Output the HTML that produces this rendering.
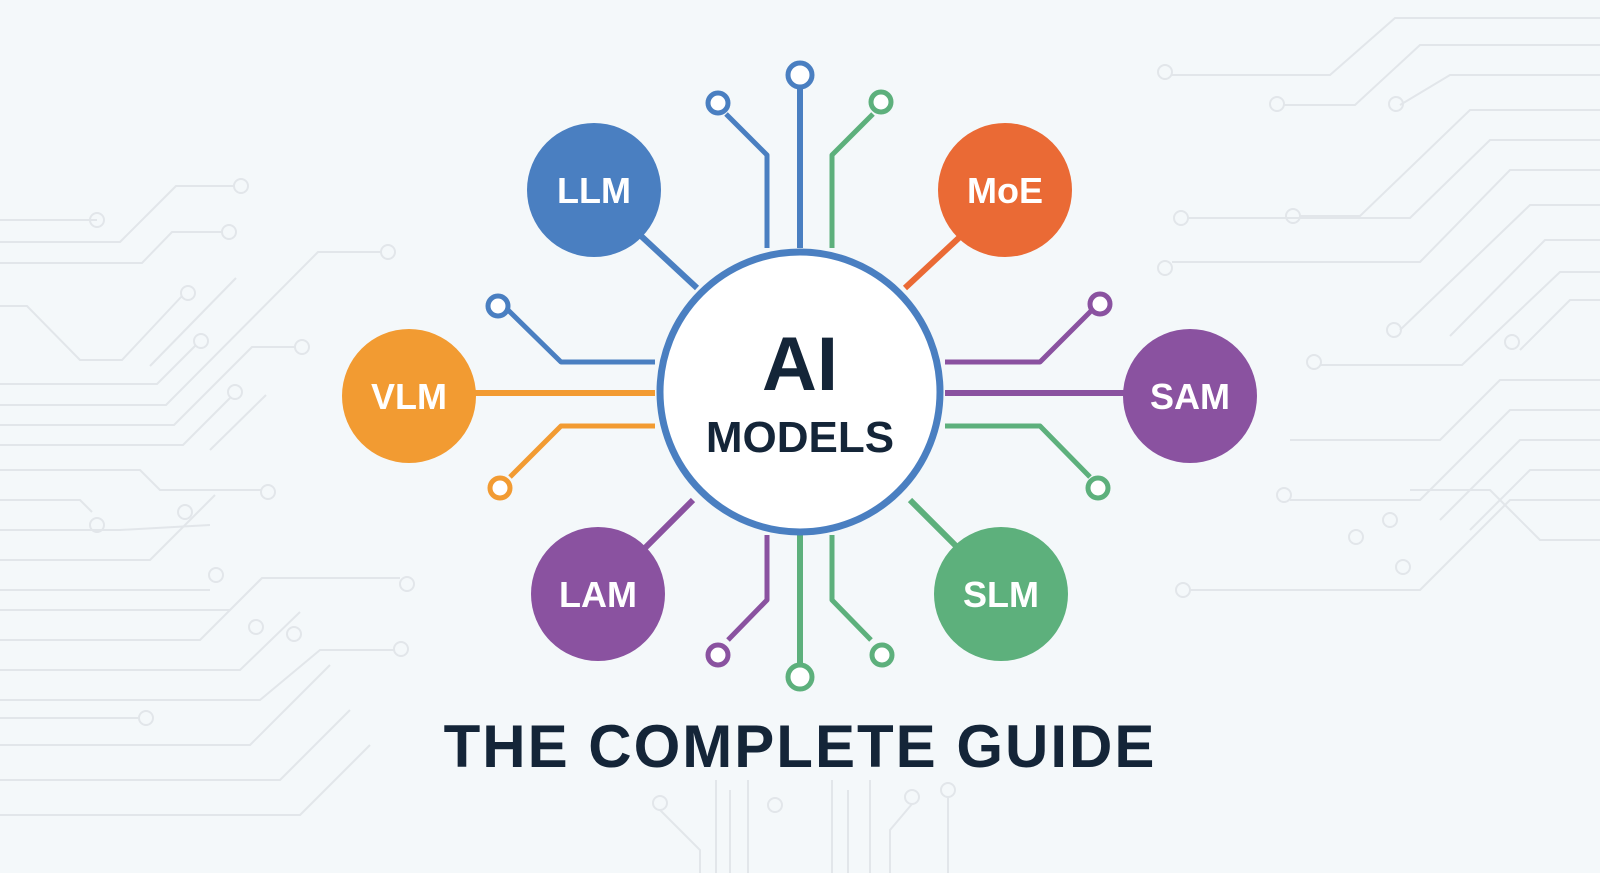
<!DOCTYPE html>
<html><head><meta charset="utf-8"><style>
html,body{margin:0;padding:0;background:#f4f8fa;}
svg{display:block;}
</style></head><body>
<svg width="1600" height="873" viewBox="0 0 1600 873" xmlns="http://www.w3.org/2000/svg">
<rect width="1600" height="873" fill="#f4f8fa"/>
<g stroke="#e2e6ea" stroke-width="2" fill="none">
<path d="M0 220 H97"/><circle cx="97" cy="220" r="7"/>
<path d="M0 242 H120 L176 186 H235"/><circle cx="241" cy="186" r="7"/>
<path d="M0 263 H142 L172 232 H223"/><circle cx="229" cy="232" r="7"/>
<path d="M0 306 H27 L80 360 H122 L182 296"/><circle cx="188" cy="293" r="7"/>
<path d="M150 366 L236 278"/>
<path d="M0 384 H157 L196 345"/><circle cx="201" cy="341" r="7"/>
<path d="M0 405 H166 L318 252 H382"/><circle cx="388" cy="252" r="7"/>
<path d="M0 425 H174 L252 347 H296"/><circle cx="302" cy="347" r="7"/>
<path d="M0 445 H183 L230 398"/><circle cx="235" cy="392" r="7"/>
<path d="M210 450 L266 395"/>
<path d="M0 470 H140 L160 490 H262"/><circle cx="268" cy="492" r="7"/>
<path d="M0 500 H80 L92 512"/><circle cx="97" cy="525" r="7"/>
<path d="M0 530 H120 L210 525"/>
<path d="M0 560 H150 L215 495"/><circle cx="185" cy="512" r="7"/>
<path d="M0 590 H210"/><circle cx="216" cy="575" r="7"/>
<path d="M0 610 H230 L262 578 H400"/><circle cx="407" cy="584" r="7"/>
<path d="M0 640 H200 L260 580"/><circle cx="256" cy="627" r="7"/>
<path d="M0 670 H240 L300 612"/><circle cx="294" cy="634" r="7"/>
<path d="M0 700 H260 L320 650 H395"/><circle cx="401" cy="649" r="7"/>
<path d="M0 718 H140"/><circle cx="146" cy="718" r="7"/>
<path d="M0 745 H250 L330 665"/>
<path d="M0 780 H280 L350 710"/>
<path d="M0 815 H300 L370 745"/>
<path d="M1600 18 H1395 L1330 75 H1172"/><circle cx="1165" cy="72" r="7"/>
<path d="M1600 45 H1420 L1355 105 H1284"/><circle cx="1277" cy="104" r="7"/>
<path d="M1600 75 H1450 L1400 105"/><circle cx="1396" cy="104" r="7"/>
<path d="M1600 110 H1470 L1360 216 H1300"/><circle cx="1293" cy="216" r="7"/>
<path d="M1600 140 H1490 L1410 218 H1188"/><circle cx="1181" cy="218" r="7"/>
<path d="M1600 170 H1510 L1420 262 H1172"/><circle cx="1165" cy="268" r="7"/>
<path d="M1600 205 H1530 L1400 330"/><circle cx="1394" cy="330" r="7"/>
<path d="M1600 240 H1545 L1450 336"/>
<path d="M1600 272 H1560 L1462 365 H1320"/><circle cx="1314" cy="362" r="7"/>
<path d="M1600 300 H1570 L1520 350"/><circle cx="1512" cy="342" r="7"/>
<path d="M1600 380 H1500 L1440 440 H1290"/><circle cx="1284" cy="495" r="7"/>
<path d="M1600 410 H1510 L1420 500 H1290"/>
<path d="M1600 440 H1520 L1440 520"/><circle cx="1390" cy="520" r="7"/>
<path d="M1600 470 H1530 L1470 530"/><circle cx="1356" cy="537" r="7"/>
<path d="M1600 540 H1540 L1490 490 H1410"/><circle cx="1403" cy="567" r="7"/>
<path d="M1600 500 H1510 L1420 590 H1190"/><circle cx="1183" cy="590" r="7"/>
<path d="M716 780 V873 M730 790 V873 M748 780 V873 M832 780 V873 M848 790 V873 M870 780 V873"/>
<circle cx="660" cy="803" r="7"/><circle cx="775" cy="805" r="7"/><circle cx="912" cy="797" r="7"/><circle cx="948" cy="790" r="7"/>
<path d="M660 810 L700 850 V873 M912 804 L890 830 V873 M948 797 V873"/>
</g>

<!-- connectors -->
<g fill="none" stroke-width="5" stroke-linejoin="round">
<path d="M800 248 V86" stroke="#4a7fc1" stroke-width="6"/>
<path d="M767 248 V155 L726 114" stroke="#4a7fc1"/>
<path d="M832 248 V155 L873 114" stroke="#5db07c"/>
<path d="M800 535 V666" stroke="#5db07c" stroke-width="6"/>
<path d="M767 535 V600 L728 640" stroke="#8a52a0"/>
<path d="M832 535 V600 L871 640" stroke="#5db07c"/>
<path d="M655 362 H561 L508 310" stroke="#4a7fc1"/>
<path d="M470 393 H655" stroke="#f29b32" stroke-width="6"/>
<path d="M655 426 H561 L510 477" stroke="#f29b32"/>
<path d="M945 362 H1040 L1092 310" stroke="#8a52a0"/>
<path d="M945 393 H1130" stroke="#8a52a0" stroke-width="6"/>
<path d="M945 426 H1040 L1090 477" stroke="#5db07c"/>
<path d="M640 235 L697 288" stroke="#4a7fc1" stroke-width="6"/>
<path d="M962 235 L905 288" stroke="#ea6a35" stroke-width="6"/>
<path d="M645 548 L693 500" stroke="#8a52a0" stroke-width="6"/>
<path d="M958 548 L910 500" stroke="#5db07c" stroke-width="6"/>
</g>
<g fill="#fff" stroke-width="5">
<circle cx="800" cy="75" r="12" stroke="#4a7fc1"/>
<circle cx="718" cy="103" r="10" stroke="#4a7fc1"/>
<circle cx="881" cy="102" r="10" stroke="#5db07c"/>
<circle cx="800" cy="677" r="12" stroke="#5db07c"/>
<circle cx="718" cy="655" r="10" stroke="#8a52a0"/>
<circle cx="882" cy="655" r="10" stroke="#5db07c"/>
<circle cx="498" cy="306" r="10" stroke="#4a7fc1"/>
<circle cx="500" cy="488" r="10" stroke="#f29b32"/>
<circle cx="1100" cy="304" r="10" stroke="#8a52a0"/>
<circle cx="1098" cy="488" r="10" stroke="#5db07c"/>
</g>

<!-- center -->
<circle cx="800" cy="392" r="140" fill="#fff" stroke="#4a7fc1" stroke-width="7"/>
<g font-family="Liberation Sans, sans-serif" font-weight="bold" text-anchor="middle" fill="#142538">
<text x="800" y="390" font-size="76">AI</text>
<text x="800" y="452" font-size="44">MODELS</text>
</g>

<!-- nodes -->
<g font-family="Liberation Sans, sans-serif" font-weight="bold" text-anchor="middle" fill="#fff" font-size="36">
<circle cx="594" cy="190" r="67" fill="#4a7fc1"/><text x="594" y="203">LLM</text>
<circle cx="1005" cy="190" r="67" fill="#ea6a35"/><text x="1005" y="203">MoE</text>
<circle cx="409" cy="396" r="67" fill="#f29b32"/><text x="409" y="409">VLM</text>
<circle cx="1190" cy="396" r="67" fill="#8a52a0"/><text x="1190" y="409">SAM</text>
<circle cx="598" cy="594" r="67" fill="#8a52a0"/><text x="598" y="607">LAM</text>
<circle cx="1001" cy="594" r="67" fill="#5db07c"/><text x="1001" y="607">SLM</text>
</g>

<text x="800" y="767" font-family="Liberation Sans, sans-serif" font-weight="bold" font-size="60" text-anchor="middle" fill="#142538" letter-spacing="2">THE COMPLETE GUIDE</text>
</svg>
</body></html>
